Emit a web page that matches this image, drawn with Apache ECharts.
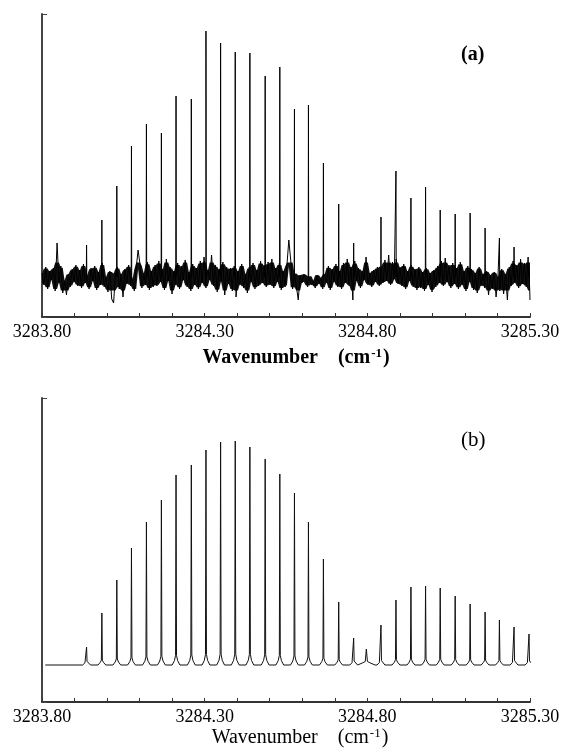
<!DOCTYPE html>
<html>
<head>
<meta charset="utf-8">
<script src="https://cdn.jsdelivr.net/npm/echarts@6/dist/echarts.min.js"></script>
<style>
html,body{margin:0;padding:0;background:#fff;}
#chart{width:565px;height:753px;}
</style>
</head>
<body>
<div id="chart"></div>
<script>
// ---- data ----
const xMin = 3283.80;
const xMax = 3285.30;
const tickLabels = ['3283.80', '3284.30', '3284.80', '3285.30'];
const axisTitle = 'Wavenumber';
const panelLabels = ['(a)', '(b)'];

// line positions (cm-1)
const lineWavenumbers = [3283.937, 3283.984, 3284.030, 3284.075, 3284.121, 3284.167, 3284.212, 3284.259,
  3284.304, 3284.349, 3284.394, 3284.439, 3284.486, 3284.531, 3284.576, 3284.619, 3284.665, 3284.712,
  3284.758, 3284.797, 3284.842, 3284.888, 3284.934, 3284.979, 3285.024, 3285.070, 3285.116, 3285.162,
  3285.206, 3285.251, 3285.297];

// (a) observed line heights above the noise baseline (arb. units)
const heightsA = [32, 57, 91, 131, 153, 144, 181, 178, 246, 234, 225, 224, 201, 210, 168, 172, 114, 73,
  34, 0, 60, 106, 79, 90, 67, 63, 64, 49, 39, 30, 10];

// (a) noise trace, evenly sampled from xMin to xMax (arb. units)
const noiseA = [
  4, -8, 10, -12, 6, -3, 9, -14, 34, -6, 11, -16, -4, -18, 3, -10, 8, -5, 12, -9,
  7, -11, 13, -6, 2, -12, 9, -4, 11, -13, 5, -8, 14, -10, 0, -15, 6, -22, -26, 4,
  10, -12, 3, -20, 8, -7, 12, -9, -3, -14, 9, 27, 13, -11, 4, -8, 15, -13, 6, -10,
  12, -9, 16, -5, 8, -13, 18, -4, 10, -17, 6, -8, 14, -12, 11, -3, 17, -10, 5, -14,
  13, -8, 9, -12, 16, -6, 20, -11, 7, -3, 22, -9, 12, -15, 8, -5, 15, -18, 10, -7,
  9, -14, 11, -20, 6, -8, 13, -11, 3, -16, 10, -5, 14, -12, 7, -9, 16, -6, 12, -10,
  15, -8, 18, -11, 9, -5, 14, -13, 6, -10, 12, 37, 17, -12, 4, -9, -23, 2, -6, 3,
  -2, -10, 1, -8, -4, -11, 2, -7, -1, -12, 3, -6, 11, -13, 8, -5, 13, -10, 6, -12,
  14, -6, 18, -9, 10, -23, 16, -4, 9, -11, 6, -3, 20, -8, 4, -10, 7, -5, 10, -9,
  12, -6, 17, -4, 22, -8, 15, -2, 18, -7, 10, -9, 13, -12, 6, -4, 12, -10, 8, -13,
  10, -11, 5, -14, 9, -8, 4, -15, 7, -10, 11, -6, 16, -9, 19, -5, 12, -11, 14, -7,
  9, -12, 15, -8, 6, -14, 11, -5, 8, -13, 4, -16, 10, -9, 3, -11, 6, -18, 2, -12,
  5, -20, 0, -14, 8, -17, 3, -23, 10, -9, 16, -6, 12, -11, 18, -7, 14, -10, 20, -23
];

// (b) simulated line heights (arb. units) and relative widths
const heightsB = [18, 52, 85, 117, 143, 165, 190, 200, 215, 223, 224, 218, 206, 191, 172, 143, 106, 63,
  27, 16, 40, 65, 78, 79, 77, 69, 61, 53, 45, 38, 31];
const widthsB = [1, 1, 1, 1, 1, 1, 1, 1, 1, 1, 1, 1, 1, 1, 1, 1, 1, 1, 1, 2.2, 1, 1, 1, 1, 1, 1, 1, 1, 1, 1, 1];

// ---- build series from data ----
const baseA = 40, topA = 303;
const baseB = 37, topB = 304;
const nA = noiseA.length;
const noiseX = noiseA.map((v, i) => xMin + i * (xMax - xMin) / (nA - 1));

function buildA() {
  const pts = [];
  for (let i = 0; i < nA; i++) pts.push([noiseX[i], baseA + noiseA[i]]);
  for (let k = 0; k < lineWavenumbers.length; k++) {
    if (heightsA[k] > 0) {
      pts.push([lineWavenumbers[k] - 0.0008, baseA]);
      pts.push([lineWavenumbers[k], baseA + heightsA[k]]);
      pts.push([lineWavenumbers[k] + 0.0008, baseA]);
    }
  }
  pts.sort((a, b) => a[0] - b[0]);
  return pts;
}

// dense core of the noise band, from the local extremes of the noise trace
const envScale = 0.85;
function envelope() {
  const hi = [], lo = [];
  for (let i = 0; i < nA; i++) {
    const w = noiseA.slice(Math.max(0, i - 1), i + 2);
    lo.push([noiseX[i], baseA + Math.max(-16, Math.min.apply(null, w)) * envScale]);
    hi.push([noiseX[i], baseA + Math.min(17, Math.max.apply(null, w)) * envScale]);
  }
  return { hi: hi, lo: lo };
}
const envA = envelope();

// profile template for one simulated line
const shapeOffsets = [-0.012, -0.005, -0.0015, 0, 0.0015, 0.005, 0.012];
const shapeFractions = [0, 0.012, 0.035, 1, 0.035, 0.012, 0];
const shapeFoot = [0, 2, 3, 0, 3, 2, 0];

function buildB() {
  const pts = [[xMin + 0.01, baseB]];
  for (let k = 0; k < lineWavenumbers.length; k++) {
    for (let j = 0; j < shapeOffsets.length; j++) {
      pts.push([lineWavenumbers[k] + shapeOffsets[j] * widthsB[k],
        baseB + shapeFractions[j] * heightsB[k] + shapeFoot[j]]);
    }
  }
  pts.sort((a, b) => a[0] - b[0]);
  return pts;
}

const serif = '"Liberation Serif", "DejaVu Serif", serif';

function isMajor(v) {
  const r = (v - xMin) / 0.5;
  return Math.abs(r - Math.round(r)) < 1e-6;
}

function xAxisCfg(gridIndex, bold, gap, shift) {
  return {
    gridIndex: gridIndex,
    type: 'value',
    min: xMin,
    max: xMax,
    interval: 0.1,
    name: '{t|' + axisTitle + '}{g| }{t|(cm}{s|-1}{t|)}',
    nameLocation: 'middle',
    nameGap: gap,
    nameTextStyle: {
      padding: [0, 0, 0, shift],
      rich: {
        t: { fontFamily: serif, fontSize: 20, fontWeight: bold ? 'bold' : 'normal', color: '#000' },
        g: { width: 20 },
        s: { fontFamily: serif, fontSize: 13, fontWeight: bold ? 'bold' : 'normal', color: '#000', verticalAlign: 'top', padding: [0, 1, 8, 1] }
      }
    },
    axisLine: { show: true, onZero: false, lineStyle: { color: '#333', width: 2 } },
    axisTick: { show: true, inside: true, length: 4, lineStyle: { color: '#333', width: 1 } },
    axisLabel: {
      show: true, margin: 6, fontFamily: serif, fontSize: 18, color: '#000',
      showMinLabel: true, showMaxLabel: true,
      formatter: function (v) {
        if (!isMajor(v)) return '';
        const idx = Math.round((v - xMin) / 0.5);
        return tickLabels[idx] || '';
      }
    },
    splitLine: { show: false }
  };
}

function yAxisCfg(gridIndex, top) {
  return {
    gridIndex: gridIndex,
    type: 'value',
    min: 0,
    max: top,
    interval: top,
    axisLine: { show: true, lineStyle: { color: '#444', width: 2 } },
    axisTick: { show: true, inside: true, length: 5, lineStyle: { color: '#444', width: 1 } },
    axisLabel: { show: false },
    splitLine: { show: false }
  };
}

const chart = echarts.init(document.getElementById('chart'), null, { renderer: 'canvas' });
chart.setOption({
  animation: false,
  backgroundColor: '#fff',
  grid: [
    { left: 42, right: 35, top: 14, height: 303 },
    { left: 42, right: 35, top: 398, height: 304 }
  ],
  xAxis: [xAxisCfg(0, true, 30, 20), xAxisCfg(1, false, 25, 28)],
  yAxis: [yAxisCfg(0, topA), yAxisCfg(1, topB)],
  graphic: [
    { type: 'text', left: 461, top: 45, style: { text: panelLabels[0], font: 'bold 20px ' + serif, fill: '#000' } },
    { type: 'text', left: 461, top: 430, style: { text: panelLabels[1], font: 'normal 21px ' + serif, fill: '#000' } }
  ],
  series: [
    {
      type: 'custom', coordinateSystem: 'cartesian2d', xAxisIndex: 0, yAxisIndex: 0,
      data: [[xMin, baseA]], silent: true, clip: true,
      renderItem: function (params, api) {
        const pts = envA.hi.map(p => api.coord(p));
        for (let i = envA.lo.length - 1; i >= 0; i--) pts.push(api.coord(envA.lo[i]));
        return { type: 'polygon', shape: { points: pts }, style: { fill: '#111', stroke: null } };
      }
    },
    {
      type: 'line', xAxisIndex: 0, yAxisIndex: 0, data: buildA(),
      showSymbol: false, symbol: 'none', sampling: null,
      lineStyle: { color: '#000', width: 1 }
    },
    {
      type: 'line', xAxisIndex: 1, yAxisIndex: 1, data: buildB(),
      showSymbol: false, symbol: 'none',
      lineStyle: { color: '#111', width: 1 }
    }
  ]
});
</script>
</body>
</html>
